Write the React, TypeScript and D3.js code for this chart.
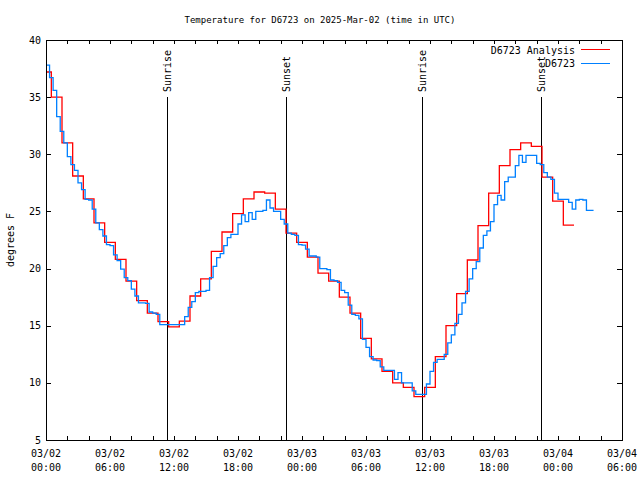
import React from "react";
import * as d3 from "d3";

const TITLE = "Temperature for D6723 on 2025-Mar-02 (time in UTC)";
const Y_LABEL = "degrees F";
const START = Date.UTC(2025, 2, 2, 0, 0);
const END = Date.UTC(2025, 2, 4, 6, 0);
const HOUR = 3600 * 1000;

// Hourly analysis values (each valid for the hour centred on it), from 03/02 00:00
const analysisTemps = [
  37.2, 35.0, 31.0, 28.1, 26.1, 24.0, 22.3, 20.8, 18.9, 17.2,
  16.1, 15.35, 14.9, 15.4, 17.6, 19.1, 21.5, 23.2, 24.8, 26.1,
  26.7, 26.6, 25.2, 23.1, 22.3, 21.0, 19.6, 18.9, 17.5, 16.1,
  13.9, 12.1, 11.0, 10.0, 9.6, 8.8, 9.6, 12.3, 15.0, 17.8,
  20.75, 23.75, 26.6, 29.0, 30.4, 31.0, 30.7, 28.0, 25.9, 23.8,
];

// Observations every 20 minutes from 03/02 00:00
const OBS_STEP_MIN = 20;
const obsTemps = [
  37.8, 36.7, 35.6, 33.3, 32.0, 31.0, 29.8, 29.1, 28.6, 27.5,
  26.9, 26.05, 26.0, 25.2, 24.0, 23.4, 22.85, 22.1, 22.0, 21.2,
  20.7, 19.95, 19.2, 18.95, 18.2, 17.6, 17.0, 17.0, 16.95, 16.2,
  16.1, 16.0, 15.1, 15.1, 15.1, 15.1, 15.1, 15.1, 15.1, 15.8,
  16.6, 17.1, 17.9, 18.0, 18.0, 18.1, 19.2, 20.2, 20.95, 21.3,
  22.0, 22.7, 23.0, 23.0, 23.9, 24.7, 24.1, 24.9, 24.3, 25.0,
  25.0, 25.1, 26.0, 25.3, 25.0, 25.0, 24.3, 23.9, 23.1, 23.0,
  22.9, 22.1, 22.05, 21.7, 21.1, 21.1, 21.0, 20.0, 20.0, 19.9,
  19.0, 18.95, 18.8, 18.1, 17.9, 16.8, 16.0, 15.9, 15.6, 13.8,
  13.1, 12.3, 12.0, 11.95, 11.4, 11.1, 11.1, 11.1, 10.3, 10.9,
  10.0, 10.0, 10.0, 9.3, 9.0, 9.0, 9.0, 9.9, 11.0, 11.8,
  12.05, 12.05, 12.5, 13.5, 14.2, 15.2, 16.0, 17.0, 18.0, 19.1,
  20.0, 20.6, 21.8, 22.9, 23.3, 24.1, 25.6, 26.4, 26.0, 27.6,
  28.0, 28.0, 29.0, 29.9, 29.3, 29.9, 29.9, 29.9, 29.2, 29.1,
  28.4, 28.0, 27.8, 26.6, 26.05, 26.05, 26.05, 25.8, 25.2, 26.0,
  26.05, 26.0, 25.1, 25.1,
];

const sunEvents = [
  { label: "Sunrise", time: "2025-03-02T11:20:00Z" },
  { label: "Sunset", time: "2025-03-02T22:30:00Z" },
  { label: "Sunrise", time: "2025-03-03T11:15:00Z" },
  { label: "Sunset", time: "2025-03-03T22:25:00Z" },
];

const yTicks = [5, 10, 15, 20, 25, 30, 35, 40];
const legendItems = [
  { label: "D6723 Analysis", color: "#ff0000" },
  { label: "D6723", color: "#0080ff" },
];

const FONT = "'DejaVu Sans Mono', monospace";

export default function App() {
  const W = 640, H = 480;
  const L = 46, R = 622, T = 40, B = 440;
  const x = d3.scaleUtc().domain([new Date(START), new Date(END)]).range([L, R]);
  const y = d3.scaleLinear().domain([5, 40]).range([B, T]);

  type P = { t: Date; v: number };
  const redPts: P[] = analysisTemps.map((v, i) => ({ t: new Date(START + (i - 0.5) * HOUR), v }));
  redPts.push({ t: new Date(START + (analysisTemps.length - 0.5) * HOUR), v: analysisTemps[analysisTemps.length - 1] });
  const stepMs = OBS_STEP_MIN * 60 * 1000;
  const bluePts: P[] = obsTemps.map((v, i) => ({ t: new Date(START + i * stepMs), v }));
  bluePts.push({ t: new Date(START + obsTemps.length * stepMs), v: obsTemps[obsTemps.length - 1] });

  const line = d3.line<P>().x((d) => x(d.t)).y((d) => y(d.v)).curve(d3.curveStepAfter);

  const minorTicks = d3.utcHour.every(2)!.range(new Date(START), new Date(END + 1));
  const majorTicks = d3.utcHour.every(6)!.range(new Date(START), new Date(END + 1));
  const fmtDate = d3.utcFormat("%m/%d");
  const fmtTime = d3.utcFormat("%H:%M");
  const TL = 4;

  return (
    <svg width={W} height={H} style={{ position: "absolute", left: 0, top: 0, background: "#fff" }}
      fontFamily={FONT} fontSize={10}>
      <defs>
        <clipPath id="plot">
          <rect x={L} y={T} width={R - L} height={B - T} />
        </clipPath>
      </defs>
      <rect x={0} y={0} width={W} height={H} fill="#fff" />
      <text x={320} y={23} textAnchor="middle" fontSize={9}>{TITLE}</text>

      {/* ticks */}
      <g stroke="#000" strokeWidth={1} shapeRendering="crispEdges">
        {minorTicks.map((d, i) => {
          const xx = Math.round(x(d)) + 0.5;
          return (
            <g key={i}>
              <line x1={xx} x2={xx} y1={B} y2={B - TL} />
              <line x1={xx} x2={xx} y1={T} y2={T + TL} />
            </g>
          );
        })}
        {yTicks.map((v) => {
          const yy = Math.round(y(v)) + 0.5;
          return (
            <g key={v}>
              <line x1={L} x2={L + TL + 1} y1={yy} y2={yy} />
              <line x1={R} x2={R - TL - 1} y1={yy} y2={yy} />
            </g>
          );
        })}
      </g>

      {yTicks.map((v) => (
        <text key={v} x={41} y={y(v) + 3.5} textAnchor="end">{v}</text>
      ))}
      {majorTicks.map((d, i) => (
        <g key={i}>
          <text x={x(d)} y={457} textAnchor="middle">{fmtDate(d)}</text>
          <text x={x(d)} y={471} textAnchor="middle">{fmtTime(d)}</text>
        </g>
      ))}
      <text transform={`translate(14,240) rotate(-90)`} textAnchor="middle">{Y_LABEL}</text>

      {/* sun lines */}
      {sunEvents.map((e, i) => {
        const xx = Math.round(x(new Date(e.time))) + 0.5;
        return (
          <g key={i}>
            <line x1={xx} x2={xx} y1={97} y2={B} stroke="#000" strokeWidth={1} shapeRendering="crispEdges" />
            <text transform={`translate(${xx + 3.5},92) rotate(-90)`} textAnchor="start">{e.label}</text>
          </g>
        );
      })}

      <g clipPath="url(#plot)" fill="none">
        <path d={line(redPts) ?? ""} stroke="#ff0000" strokeWidth={1.3} />
        <path d={line(bluePts) ?? ""} stroke="#0080ff" strokeWidth={1.3} />
      </g>

      {/* legend */}
      {legendItems.map((it, i) => (
        <g key={it.label}>
          <text x={575} y={53.5 + i * 13.5} textAnchor="end">{it.label}</text>
          <line x1={581} x2={610} y1={49.5 + i * 13.5} y2={49.5 + i * 13.5} stroke={it.color} strokeWidth={1} shapeRendering="crispEdges" />
        </g>
      ))}

      <rect x={L + 0.5} y={T + 0.5} width={R - L} height={B - T} fill="none" stroke="#000" strokeWidth={1} shapeRendering="crispEdges" />
    </svg>
  );
}
